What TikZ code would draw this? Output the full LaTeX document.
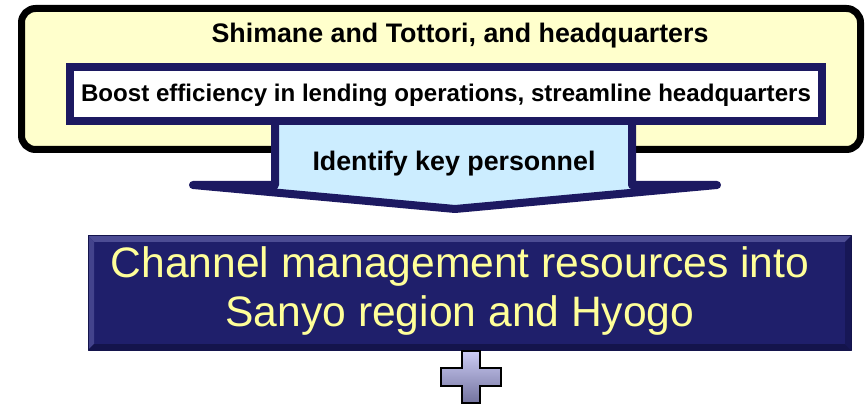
\documentclass[tikz,border=0pt]{standalone}
\usepackage{fontspec}
\setmainfont{Liberation Sans}
\usepackage{tikz}
\usetikzlibrary{calc}
\definecolor{ffffcc}{rgb}{1.,1.,0.8}
\definecolor{qqqqzz}{rgb}{0.11,0.1,0.38}
\definecolor{cceeff}{rgb}{0.8,0.93,1.}
\definecolor{zzzzww}{rgb}{0.12,0.12,0.42}
\definecolor{bevlit}{rgb}{0.3,0.3,0.58}
\definecolor{bevdark}{rgb}{0.08,0.08,0.3}
\definecolor{ffff99}{rgb}{1.,1.,0.6}
\definecolor{plustop}{rgb}{0.8,0.8,0.96}
\definecolor{plusbot}{rgb}{0.45,0.45,0.62}
\tikzset{boldtext/.style={font=\bfseries\fontsize{26.8}{32}\selectfont,text=black}}

\begin{document}
\begin{tikzpicture}[line cap=round,line join=round,x=1pt,y=-1pt]
    \useasboundingbox (0,0) rectangle (865,406);
    % outer frame
    \draw[line width=7pt,rounded corners=14pt,fill=ffffcc] (21.5,8.5) rectangle (860.5,149.5);
    \node[boldtext] (region) at (460,36) {Shimane and Tottori, and headquarters};
    % callout
    \fill[cceeff] (275,121) -- (275,185) -- (193,185) -- (455,209) -- (717,185) -- (632,185) -- (632,121) -- cycle;
    \draw[line width=8pt,color=qqqqzz] (275,121) -- (275,185) -- (193,185) -- (455,209) -- (717,185) -- (632,185) -- (632,121);
    \node[boldtext] (personnel) at (454,164) {Identify key personnel};
    % inner box
    \draw[line width=8pt,line cap=butt,line join=miter,color=qqqqzz,fill=white] (70,67) rectangle (822,121.5);
    \node[boldtext,font=\bfseries\fontsize{24.1}{28}\selectfont] (lending) at (446,95) {Boost efficiency in lending operations, streamline headquarters};
    % channel box
    \fill[zzzzww] (88,236) rectangle (851,350);
    \fill[bevlit] (88,236) -- (851,236) -- (845,242) -- (94,242) -- cycle;
    \fill[bevlit!80!zzzzww] (88,236) -- (94,242) -- (94,344) -- (88,350) -- cycle;
    \fill[bevdark] (88,350) -- (94,344) -- (845,344) -- (851,350) -- cycle;
    \fill[bevdark!70!zzzzww] (851,236) -- (851,350) -- (845,344) -- (845,242) -- cycle;
    \draw[line width=1pt,color=bevdark] (88,236) rectangle (851,350);
    \node[text=ffff99,font=\fontsize{42.6}{49}\selectfont,align=center] (channel) at (460,291) {Channel management resources into\\Sanyo region and Hyogo};
    % plus sign
    \draw[line width=2pt,line cap=butt,line join=miter,top color=plustop,bottom color=plusbot] (462,351) -- (480,351) -- (480,368) -- (501,368) -- (501,386) -- (480,386) -- (480,403) -- (462,403) -- (462,386) -- (441,386) -- (441,368) -- (462,368) -- cycle;
\end{tikzpicture}
\end{document}
